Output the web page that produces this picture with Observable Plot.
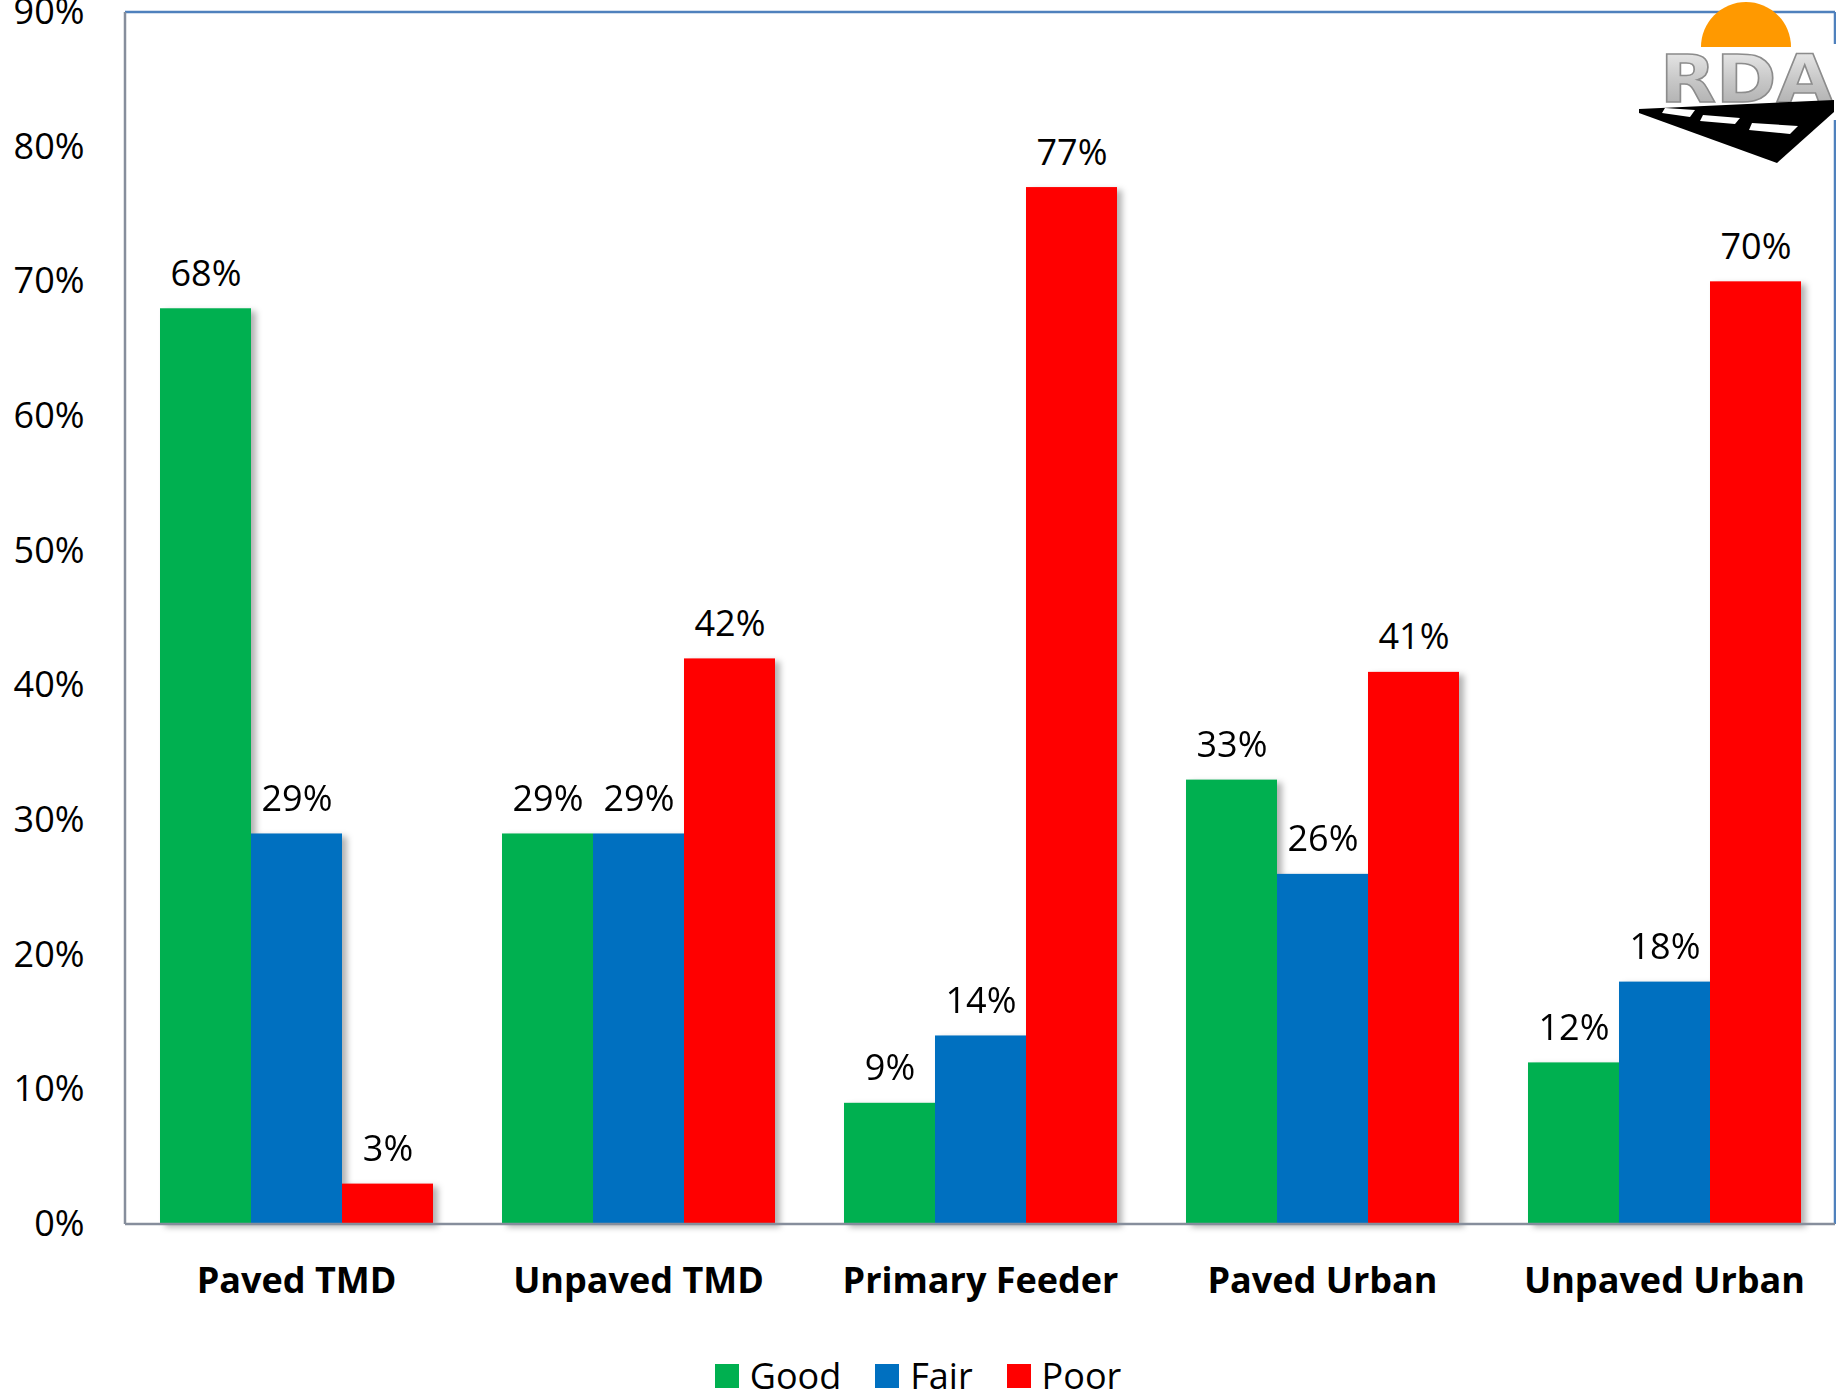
<!DOCTYPE html>
<html><head><meta charset="utf-8">
<script src="https://cdn.jsdelivr.net/npm/d3@7"></script>
<script src="https://cdn.jsdelivr.net/npm/@observablehq/plot@0.6"></script>
<style>
body{margin:0;background:#fff;font-family:"Open Sans",sans-serif;}
#wrap{position:relative;width:1836px;height:1397px;overflow:hidden;}
#wrap svg.plot{display:block;}
g[aria-label^="fx-axis"] text{font-weight:bold;}
g[aria-label="bar"]{filter:drop-shadow(5px 3px 3px rgba(0,0,0,0.3));}
#legend{position:absolute;top:1356px;left:0;width:1836px;display:flex;justify-content:center;align-items:center;font-size:36px;line-height:40px;color:#000;}
#legend .item{display:flex;align-items:center;margin:0 17px;}
#legend .sw{width:24px;height:24px;margin-right:11px;}
#logo{position:absolute;left:0;top:0;pointer-events:none;}
</style></head><body>
<div id="wrap"></div>
<script>
const categories = ["Paved TMD", "Unpaved TMD", "Primary Feeder", "Paved Urban", "Unpaved Urban"];
const conditions = ["Good", "Fair", "Poor"];
const good = [68, 29, 9, 33, 12];
const fair = [29, 29, 14, 26, 18];
const poor = [3, 42, 77, 41, 70];
const colors = ["#00b050", "#0070c0", "#ff0000"];
const yTicks = [0, 10, 20, 30, 40, 50, 60, 70, 80, 90];

const series = [good, fair, poor];
const rows = categories.flatMap((c, i) => conditions.map((k, j) => ({category: c, condition: k, value: series[j][i]})));

const chart = Plot.plot({
  width: 1836, height: 1330,
  marginLeft: 125, marginRight: 1, marginTop: 12, marginBottom: 106,
  style: {fontFamily: "Open Sans", fontSize: "36px", color: "#000", background: "transparent", overflow: "visible"},
  fx: {domain: categories, paddingInner: 0.2, paddingOuter: 0.1, label: null, axis: "bottom", tickSize: 0, tickPadding: 43},
  x: {domain: conditions, padding: 0, axis: null},
  y: {domain: [0, 90], axis: null},
  color: {domain: conditions, range: colors},
  marks: [
    // in a faceted plot the y axis sits at the first facet's left edge; shift to sit left of the frame
    Plot.axisY({ticks: yTicks, tickFormat: d => d + "%", tickSize: 0, tickPadding: 75, label: null, fontSize: 36}),
    Plot.barY(rows, {fx: "category", x: "condition", y: "value", fill: "condition"}),
    Plot.text(rows, {fx: "category", x: "condition", y: "value", text: d => d.value + "%", dy: -23, lineAnchor: "bottom", fill: "#000", fontSize: 36})
  ]
});

// frame lines using the plot's y scale
const ys = chart.scale("y");
const yTop = ys.apply(90), yBot = ys.apply(0);
const xL = 125, xR = 1835;
const svg = d3.select(chart);
const frame = svg.append("g").attr("fill", "none").attr("stroke-width", 2.5);
frame.append("line").attr("x1", xL).attr("x2", xR).attr("y1", yTop).attr("y2", yTop).attr("stroke", "#4f81bd");
frame.append("line").attr("x1", xR).attr("x2", xR).attr("y1", yTop).attr("y2", yBot).attr("stroke", "#4f81bd");
frame.append("line").attr("x1", xL).attr("x2", xL).attr("y1", yTop).attr("y2", yBot).attr("stroke", "#868e9c");
frame.append("line").attr("x1", xL).attr("x2", xR).attr("y1", yBot).attr("y2", yBot).attr("stroke", "#868e9c");

const wrap = document.getElementById("wrap");
wrap.appendChild(chart);

// logo (decoration)
const ns = "http://www.w3.org/2000/svg";
const logo = document.createElementNS(ns, "svg");
logo.setAttribute("id", "logo");
logo.setAttribute("width", 1836);
logo.setAttribute("height", 200);
logo.innerHTML = `
<defs><linearGradient id="silver" x1="0" y1="0" x2="0" y2="1">
<stop offset="0" stop-color="#f2f2f2"/><stop offset="0.5" stop-color="#c8c8c8"/><stop offset="1" stop-color="#a6a6a6"/></linearGradient></defs>
<rect x="1650" y="44" width="186" height="76" fill="#fff"/>
<path d="M1701,47 A45,45 0 0 1 1791,47 Z" fill="#ff9900"/>
<text x="1660" y="102" font-family="DejaVu Sans" font-weight="bold" font-size="66" textLength="173" lengthAdjust="spacingAndGlyphs" fill="url(#silver)" stroke="#8c8c8c" stroke-width="1.5">RDA</text>
<polygon points="1639,109 1834,100 1834,112 1777,163 1639,113" fill="#000"/>
<polygon points="1665,108 1695,110 1690,117 1662,113" fill="#fff"/>
<polygon points="1703,115 1740,118 1735,124 1700,121" fill="#fff"/>
<polygon points="1752,123 1798,126 1790,134 1749,130" fill="#fff"/>`;
wrap.appendChild(logo);

// legend
const legend = document.createElement("div");
legend.id = "legend";
conditions.forEach((k, j) => {
  const it = document.createElement("div");
  it.className = "item";
  const sw = document.createElement("div");
  sw.className = "sw";
  sw.style.background = colors[j];
  const t = document.createElement("span");
  t.textContent = k;
  it.appendChild(sw); it.appendChild(t);
  legend.appendChild(it);
});
wrap.appendChild(legend);
</script>
</body></html>
